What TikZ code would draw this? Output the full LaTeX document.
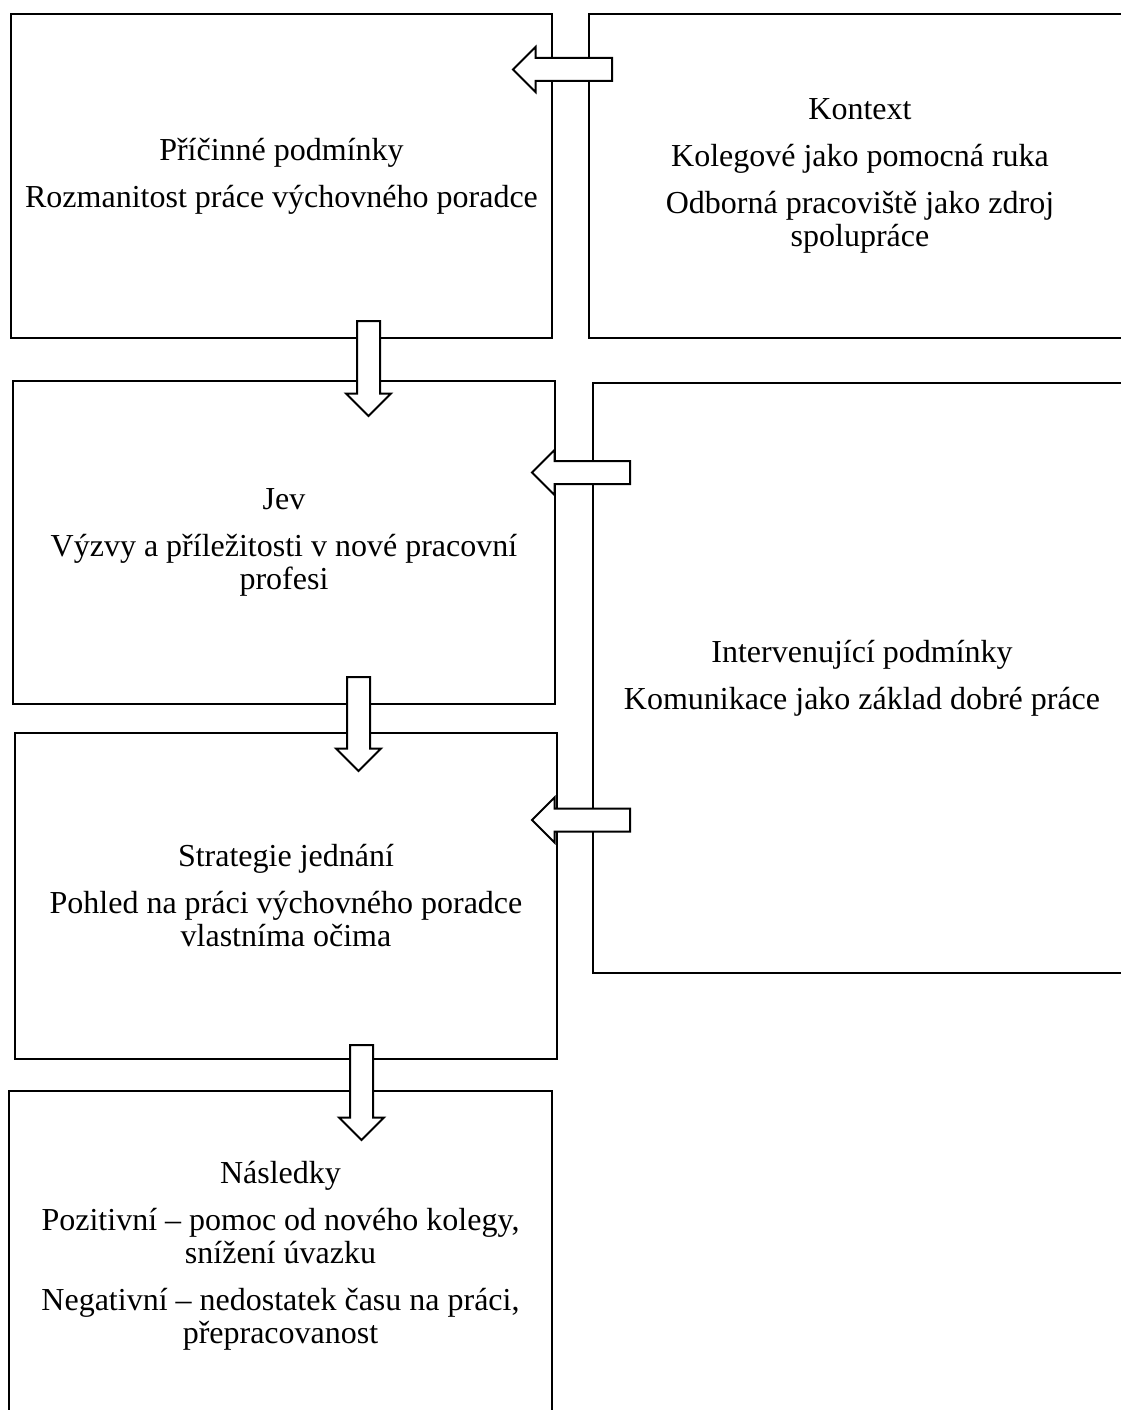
\documentclass[tikz,border=0pt]{standalone}
\usepackage{fontspec}
\setmainfont{Liberation Serif}
\usetikzlibrary{shapes.arrows}
\tikzset{
  box/.style={draw, line width=2pt, inner sep=0pt, align=center,
    font=\fontsize{32}{33}\selectfont},
  barrow/.style={single arrow, draw, fill=white, line width=2pt,
    inner sep=10.5pt, minimum width=43pt, single arrow head extend=11pt, anchor=tail},
  leftarrow/.style={barrow, shape border rotate=180},
  downarrow/.style={barrow, shape border rotate=270},
}
\begin{document}
\begin{tikzpicture}[x=1pt,y=-1pt]
\useasboundingbox (0,0) rectangle (1121,1410);
% boxes
\node[box, minimum width=541pt, minimum height=324pt] (b1) at (281.5,176)
  {Příčinné podmínky\\[14pt]Rozmanitost práce výchovného poradce};
\node[box, minimum width=542pt, minimum height=324pt] (b2) at (860,176)
  {Kontext\\[14pt]Kolegové jako pomocná ruka\\[14pt]Odborná pracoviště jako zdroj\\spolupráce};
\node[box, minimum width=542pt, minimum height=323pt] (b3) at (284,542.5)
  {Jev\\[14pt]Výzvy a příležitosti v nové pracovní\\profesi};
\node[box, minimum width=538pt, minimum height=590pt] (b4) at (862,678)
  {Intervenující podmínky\\[14pt]Komunikace jako základ dobré práce};
\node[box, minimum width=542pt, minimum height=326pt] (b5) at (286,896)
  {Strategie jednání\\[14pt]Pohled na práci výchovného poradce\\vlastníma očima};
\node[box, minimum width=543pt, minimum height=330pt] (b6) at (280.5,1256)
  {Následky\\[14pt]Pozitivní – pomoc od nového kolegy,\\snížení úvazku\\[14pt]Negativní – nedostatek času na práci,\\přepracovanost};
% block arrows (connectors)
\node[leftarrow, minimum height=99pt] (a21) at (613,69.5) {};
\node[downarrow, minimum height=95pt] (a13) at (368.5,320) {};
\node[leftarrow, minimum height=98pt] (a43) at (631,472.5) {};
\node[downarrow, minimum height=94pt] (a35) at (358.5,676) {};
\node[leftarrow, minimum height=98pt] (a45) at (631,820) {};
\node[downarrow, minimum height=95pt] (a56) at (361.5,1044) {};
\end{tikzpicture}
\end{document}
